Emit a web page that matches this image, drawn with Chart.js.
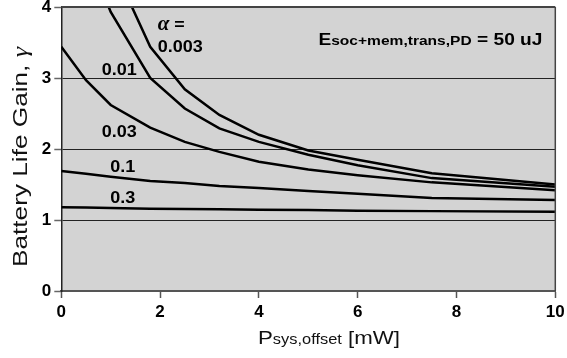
<!DOCTYPE html>
<html>
<head>
<meta charset="utf-8">
<script src="https://cdn.jsdelivr.net/npm/chart.js@4.4.1/dist/chart.umd.min.js"></script>
<style>
    html, body { margin: 0; padding: 0; background: #fff; }
    #wrap { width: 567px; height: 358px; }
</style>
</head>
<body>
<div id="wrap"><canvas id="gain-chart"></canvas></div>
<script>
// P_sys,offset sample points [mW]
const pOffset = [0, 0.5, 1, 1.8, 2.5, 3.2, 4, 5, 6, 7.5, 10];
// battery life gain for each alpha
const gainA003 = [8.0, 6.0, 4.65, 3.44, 2.84, 2.48, 2.20, 1.98, 1.85, 1.66, 1.50];
const gainA01 = [6.0, 4.8, 3.93, 3.00, 2.57, 2.29, 2.10, 1.92, 1.77, 1.59, 1.47];
const gainA03 = [3.44, 2.97, 2.62, 2.30, 2.10, 1.96, 1.82, 1.71, 1.63, 1.53, 1.42];
const gainA1 = [1.69, 1.65, 1.61, 1.55, 1.52, 1.48, 1.45, 1.41, 1.37, 1.31, 1.28];
const gainA3 = [1.18, 1.175, 1.17, 1.16, 1.155, 1.15, 1.145, 1.14, 1.13, 1.125, 1.115];
const alphaNames = ['0.003', '0.01', '0.03', '0.1', '0.3'];
const xTicks = [0, 2, 4, 6, 8, 10];
const yTicks = [0, 1, 2, 3, 4];

const series = [gainA003, gainA01, gainA03, gainA1, gainA3];

// where the curve names sit (data coords, left/baseline)
const namePlaces = [
    { x: 1.95, y: 3.37 },
    { x: 0.82, y: 3.04 },
    { x: 0.82, y: 2.17 },
    { x: 0.99, y: 1.67 },
    { x: 0.99, y: 1.24 }
];

const FONT = '"Liberation Sans", Arial, sans-serif';

// draw a row of text pieces, squeezed/stretched to a width if given
function drawRuns(ctx, runs, x, y, align, fitWidth, stretch) {
    let w = 0;
    runs.forEach(r => { ctx.font = r.font; r.w = ctx.measureText(r.t).width; w += r.w; });
    const sx = fitWidth ? fitWidth / w : (stretch || 1);
    ctx.save();
    ctx.translate(x, y);
    ctx.scale(sx, 1);
    let cx = align === 'center' ? -w / 2 : align === 'right' ? -w : 0;
    ctx.textBaseline = 'alphabetic';
    ctx.textAlign = 'left';
    runs.forEach(r => { ctx.font = r.font; ctx.fillText(r.t, cx, 0); cx += r.w; });
    ctx.restore();
}

const plotDecor = {
    id: 'plotDecor',
    beforeDraw(chart) {
        const { ctx, chartArea: a } = chart;
        ctx.save();
        ctx.fillStyle = '#d3d3d3';
        ctx.fillRect(a.left, a.top, a.right - a.left, a.bottom - a.top);
        ctx.restore();
    },
    afterDraw(chart) {
        const { ctx, chartArea: a, scales } = chart;
        ctx.save();
        // top and right frame
        ctx.strokeStyle = '#444';
        ctx.lineWidth = 2;
        ctx.beginPath();
        ctx.moveTo(a.left, a.top);
        ctx.lineTo(a.right, a.top);
        ctx.stroke();
        ctx.lineWidth = 1.5;
        ctx.beginPath();
        ctx.moveTo(a.right, a.top);
        ctx.lineTo(a.right, a.bottom);
        ctx.stroke();

        ctx.fillStyle = '#000';
        const px = v => scales.x.getPixelForValue(v);
        const py = v => scales.y.getPixelForValue(v);

        // alpha labels
        drawRuns(ctx, [
            { t: 'α', font: 'bold italic 20px "Liberation Serif", serif' },
            { t: ' =', font: 'bold 17px ' + FONT }
        ], px(1.95), py(3.68), 'left', 27);
        alphaNames.forEach((n, i) => {
            drawRuns(ctx, [{ t: n, font: 'bold 17px ' + FONT }],
                px(namePlaces[i].x), py(namePlaces[i].y), 'left', 0, 1.06);
        });

        // energy note
        drawRuns(ctx, [
            { t: 'E', font: 'bold 16px ' + FONT },
            { t: 'soc+mem,trans,PD', font: 'bold 13px ' + FONT },
            { t: ' = 50 uJ', font: 'bold 16px ' + FONT }
        ], px(9.74), py(3.46), 'right', 224);

        // axis titles
        ctx.fillStyle = '#111';
        drawRuns(ctx, [
            { t: 'P', font: '19px ' + FONT },
            { t: 'sys,offset', font: '14px ' + FONT },
            { t: ' [mW]', font: '19px ' + FONT }
        ], 258, 344, 'left', 142);

        ctx.save();
        ctx.translate(26.5, 157);
        ctx.rotate(-Math.PI / 2);
        drawRuns(ctx, [
            { t: 'Battery Life Gain, ', font: '20px ' + FONT },
            { t: 'γ', font: 'italic 20px "Liberation Serif", serif' }
        ], 0, 0, 'center', 220);
        ctx.restore();
        ctx.restore();
    }
};

const ctxGain = document.getElementById('gain-chart').getContext('2d');

const gainChart = new Chart(ctxGain, {
    type: 'line',
    data: {
        datasets: series.map((vals, i) => ({
            label: 'a = ' + alphaNames[i],
            data: pOffset.map((p, j) => ({ x: p, y: vals[j] })),
            borderColor: '#000',
            borderWidth: 2.5,
            pointRadius: 0,
            tension: 0,
            fill: false,
            clip: 0
        }))
    },
    options: {
        responsive: true,
        maintainAspectRatio: false,
        animation: false,
        events: [],
        layout: { padding: { left: 0, top: 7, right: 11.7, bottom: 0 } },
        plugins: {
            legend: { display: false },
            tooltip: { enabled: false }
        },
        scales: {
            x: {
                type: 'linear',
                min: 0,
                max: 10,
                afterBuildTicks: s => { s.ticks = xTicks.map(v => ({ value: v })); },
                afterFit: s => {
                    s.height = 67;
                    s.paddingLeft = 0; s.paddingRight = 0;
                },
                ticks: {
                    color: '#000',
                    padding: 4,
                    maxRotation: 0,
                    font: { family: FONT, size: 17, weight: 'bold' }
                },
                grid: {
                    drawOnChartArea: false,
                    tickLength: 7,
                    tickColor: '#555',
                    tickWidth: 1.5
                },
                border: { color: '#555', width: 2 }
            },
            y: {
                type: 'linear',
                min: 0,
                max: 4,
                afterBuildTicks: s => { s.ticks = yTicks.map(v => ({ value: v })); },
                afterFit: s => {
                    s.width = 61.3;
                    s.paddingTop = 0; s.paddingBottom = 0;
                },
                ticks: {
                    color: '#000',
                    padding: 3,
                    font: { family: FONT, size: 17, weight: 'bold' }
                },
                grid: {
                    color: c => (c.tick && c.tick.value > 0 && c.tick.value < 4) ? '#222' : 'rgba(0,0,0,0)',
                    lineWidth: 1,
                    tickLength: 7,
                    tickColor: '#666',
                    tickWidth: 1.5
                },
                border: { color: '#222', width: 1.5 }
            }
        }
    },
    plugins: [plotDecor]
});
</script>
</body>
</html>
